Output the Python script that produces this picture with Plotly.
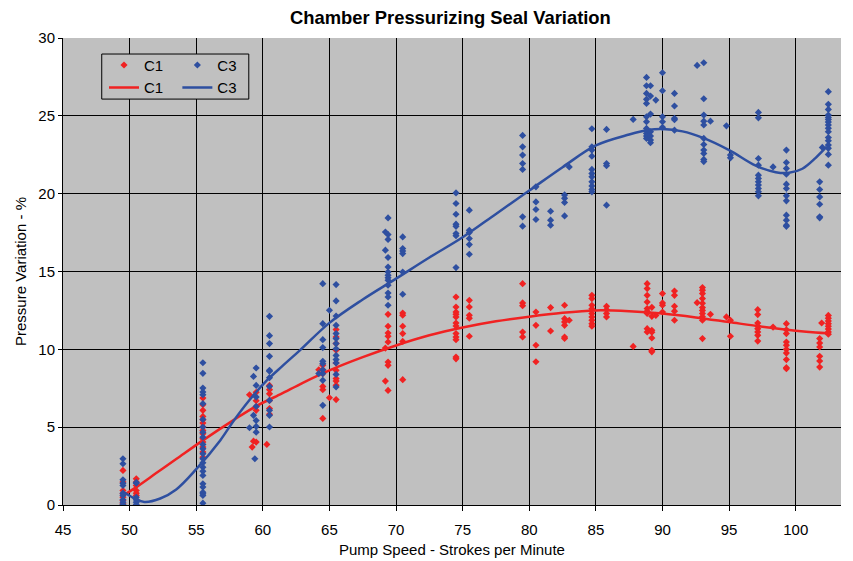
import plotly.graph_objects as go

# ---- scatter data ----
c1_x = ([49.5]*7 + [50.5]*6 + [55.5]*14 + [59.0] + [59.5]*5 + [59.3, 59.2] + [60.5]*6 + [60.3]
        + [64.5]*6 + [64.2] + [65.5]*10 + [65.0] + [69.4]*8 + [69.2]*2 + [70.5]*6
        + [74.5]*12 + [75.5]*5 + [79.5]*5 + [80.5]*4 + [81.6]*2 + [82.65]*6 + [83.0]
        + [84.7]*9 + [85.8]*4 + [87.8] + [88.85]*9 + [89.2]*7 + [89.5] + [90.0]*4 + [90.9]*5
        + [92.6] + [93.0]*11 + [93.6] + [94.8] + [95.1]*2 + [97.15]*8 + [98.3] + [99.3]*10
        + [101.8]*6 + [101.95] + [102.45]*8)
c1_y = ([2.22, 1.47, 0.93, 0.72, 0.50, 0.29, 0.08]
        + [1.68, 1.47, 1.25, 0.93, 0.76, 0.61]
        + [6.87, 6.44, 6.08, 5.69, 5.48, 5.26, 5.01, 4.79, 4.58, 4.26, 4.04, 3.72, 3.40, 3.07]
        + [7.08] + [7.24, 6.7, 6.33, 6.08, 4.04] + [4.1, 3.72]
        + [7.68, 7.41, 7.14, 6.72, 6.2, 5.83] + [3.89]
        + [8.98, 8.69, 8.44, 7.62, 7.41, 5.56] + [8.69]
        + [11.27, 10.79, 10.37, 9.94, 9.12, 8.65, 8.12, 7.96, 7.69, 6.77] + [6.89]
        + [12.25, 11.48, 11.05, 10.84, 10.47, 9.18, 8.97, 7.36] + [10.08, 7.96]
        + [12.33, 12.19, 11.48, 11.01, 10.51, 8.05]
        + [13.36, 12.72, 12.4, 12.25, 12.08, 11.69, 11.5, 11.01, 10.79, 10.62, 9.5, 9.39]
        + [13.15, 12.72, 12.19, 12.0, 10.84]
        + [14.22, 12.98, 12.8, 11.11, 10.8]
        + [12.4, 11.54, 10.26, 9.2]
        + [12.68, 11.18]
        + [12.83, 11.97, 11.76, 11.54, 10.79, 10.7] + [11.87]
        + [13.47, 13.26, 12.83, 12.6, 12.3, 12.08, 11.87, 11.65, 11.48]
        + [12.76, 12.55, 12.3, 12.08] + [10.19]
        + [14.22, 13.9, 13.47, 13.04, 12.62, 12.45, 12.3, 11.33, 11.12]
        + [12.7, 12.12, 11.22, 11.1, 10.73, 9.94, 9.84] + [12.18]
        + [13.58, 12.98, 12.83, 12.4]
        + [13.75, 13.47, 12.77, 12.45, 11.87] + [13.0]
        + [13.97, 13.8, 13.58, 13.26, 12.96, 12.68, 12.5, 12.3, 12.1, 11.87, 10.69]
        + [12.25] + [12.08] + [11.87, 10.84]
        + [12.55, 12.23, 11.69, 11.5, 11.33, 11.12, 10.9, 10.53] + [11.43]
        + [11.65, 11.26, 11.01, 10.47, 10.26, 10.0, 9.76, 9.34, 8.82, 8.75]
        + [10.69, 10.4, 10.15, 9.55, 9.25, 8.86] + [11.69]
        + [12.18, 12.0, 11.82, 11.65, 11.48, 11.3, 11.12, 10.97])

c3_x = ([49.5]*10 + [50.5]*6 + [55.5]*24 + [59.0] + [59.3]*2 + [59.5]*7 + [59.4] + [60.5]*12
        + [64.5]*10 + [64.2] + [65.0] + [65.5]*13 + [69.4]*13 + [69.2]*2 + [70.5]*6
        + [74.5]*8 + [75.5]*6 + [79.5]*7 + [80.5]*4 + [81.6]*3 + [82.65]*4 + [83.0]
        + [84.7]*11 + [85.8]*4 + [87.8] + [88.8]*11 + [89.1]*7 + [89.5] + [90.0]*5 + [90.9]*5
        + [92.6] + [93.1]*11 + [93.6] + [94.8] + [95.1]*2 + [97.2]*11 + [98.3] + [99.3]*12
        + [101.8]*6 + [102.0] + [102.45]*16)
c3_y = ([2.97, 2.65, 1.62, 1.40, 1.25, 0.76, 0.61, 0.33, 0.18, 0.03]
        + [1.40, 1.45, 0.5, 0.33, 0.18, 0.03]
        + [9.14, 8.46, 7.51, 7.26, 7.08, 6.51, 5.50, 5.01, 4.68, 4.36, 3.89, 3.61, 3.29, 2.97,
           2.71, 2.43, 2.17, 1.90, 1.36, 1.15, 0.82, 0.72, 0.61, 0.12]
        + [4.96] + [8.26, 5.76] + [8.80, 7.68, 6.93, 6.33, 5.43, 5.05, 4.68] + [2.97]
        + [12.12, 10.88, 10.37, 9.55, 8.65, 8.6, 8.18, 7.62, 6.72, 6.08, 5.76, 5.01]
        + [14.22, 11.65, 10.62, 10.11, 9.23, 9.08, 8.69, 8.44, 8.01, 6.4] + [8.44] + [12.51]
        + [14.16, 13.11, 12.14, 11.54, 11.01, 10.69, 10.37, 10.04, 9.61, 9.34, 9.12, 8.39, 7.58]
        + [18.44, 17.37, 17.06, 15.9, 15.29, 14.97, 14.76, 14.6, 14.44, 14.12, 13.62, 13.36, 12.83]
        + [17.54, 16.37]
        + [17.22, 16.48, 16.32, 16.15, 14.97, 13.54]
        + [20.05, 19.37, 18.68, 18.04, 17.9, 17.44, 17.3, 15.25]
        + [18.94, 17.65, 17.5, 17.12, 16.73, 16.11]
        + [23.74, 23.01, 22.48, 21.94, 21.56, 18.51, 17.91]
        + [20.44, 19.47, 18.98, 18.34]
        + [18.87, 18.3, 17.97]
        + [19.92, 19.7, 19.43, 18.57] + [21.72]
        + [24.17, 23.01, 22.8, 22.41, 21.56, 21.3, 21.08, 20.76, 20.5, 20.27, 20.12]
        + [24.13, 21.94, 21.8, 19.26] + [24.77]
        + [27.47, 26.93, 26.44, 26.06, 25.8, 24.94, 24.62, 24.19, 23.87, 23.7, 23.55]
        + [26.93, 26.27, 25.11, 23.98, 23.7, 23.44, 23.27] + [26.01]
        + [27.77, 26.61, 24.94, 24.62, 24.26]
        + [26.44, 25.63, 24.84, 24.75, 24.08] + [28.24]
        + [28.41, 26.1, 25.05, 24.66, 24.41, 23.55, 23.16, 22.8, 22.58, 22.2, 22.06]
        + [24.66] + [24.36] + [22.48, 22.3]
        + [25.22, 24.87, 22.26, 21.83, 21.19, 20.98, 20.76, 20.55, 20.33, 20.12, 19.86] + [21.72]
        + [22.8, 22.0, 21.62, 21.25, 20.61, 20.33, 19.86, 19.54, 18.62, 18.3, 17.97, 17.9]
        + [20.76, 20.27, 19.79, 19.32, 18.51, 18.45] + [22.97]
        + [26.55, 25.74, 25.41, 25.05, 24.9, 24.77, 24.6, 24.41, 24.2, 23.98, 23.61, 23.4,
           23.12, 22.91, 22.52, 21.83])

# ---- smoothed curves ----
c1_line_x = [49.5, 50.5, 52, 53.5, 55.5, 57.8, 59.5, 61.3, 63, 65, 67.5, 70, 72.5, 75, 77.5,
             80, 82.5, 85, 87.5, 90, 92.5, 95, 97.5, 100, 101.5, 102.4]
c1_line_y = [0.6, 1.15, 2.05, 2.95, 4.15, 5.45, 6.35, 7.1, 7.85, 8.65, 9.5, 10.25, 10.9, 11.4,
             11.8, 12.1, 12.35, 12.5, 12.45, 12.3, 12.05, 11.75, 11.45, 11.2, 11.08, 11.03]
c3_line_x = [49.6, 50.3, 51.1, 52.3, 53.5, 55.0, 56.8, 57.8, 59.0, 60.3, 61.5, 62.8, 65.0, 67.5,
             70.0, 72.5, 75.0, 77.5, 80.0, 82.5, 85.0, 87.5, 89.0, 90.0, 91.5, 93.0, 95.0, 97.0,
             98.5, 99.5, 100.5, 101.5, 102.3]
c3_line_y = [0.8, 0.45, 0.2, 0.42, 1.0, 2.3, 4.15, 5.4, 6.75, 8.0, 8.95, 9.95, 11.7, 13.2,
             14.54, 15.9, 17.2, 18.7, 20.2, 21.7, 23.1, 23.8, 24.1, 24.15, 24.0, 23.6, 22.8, 21.8,
             21.38, 21.34, 21.6, 22.3, 23.0]

RED = "#F02222"
BLUE = "#2E4FA0"
FONT = "Arial, Liberation Sans, sans-serif"

fig = go.Figure()
fig.add_trace(go.Scatter(x=c1_x, y=c1_y, mode="markers", name="C1", legend="legend",
                         marker=dict(symbol="diamond", size=5.5, color=RED)))
fig.add_trace(go.Scatter(x=c1_line_x, y=c1_line_y, mode="lines", name="C1", legend="legend",
                         line=dict(color=RED, width=2.5, shape="spline", smoothing=1.0)))
fig.add_trace(go.Scatter(x=c3_x, y=c3_y, mode="markers", name="C3", legend="legend2",
                         marker=dict(symbol="diamond", size=5.5, color=BLUE)))
fig.add_trace(go.Scatter(x=c3_line_x, y=c3_line_y, mode="lines", name="C3", legend="legend2",
                         line=dict(color=BLUE, width=2.5, shape="spline", smoothing=1.0)))

legend_common = dict(bgcolor="rgba(0,0,0,0)", borderwidth=0, font=dict(family=FONT, size=15, color="black"),
                     xanchor="left", yanchor="top", tracegroupgap=0, itemwidth=30)
fig.update_layout(
    width=853, height=561,
    margin=dict(l=63, r=12, t=38, b=56),
    paper_bgcolor="white",
    plot_bgcolor="#C0C0C0",
    title=dict(text="<b>Chamber Pressurizing Seal Variation</b>", x=0.528, xanchor="center",
               y=0.968, yanchor="middle", font=dict(family=FONT, size=18.4, color="black")),
    font=dict(family=FONT, size=15, color="black"),
    showlegend=True,
    legend=dict(x=0.0527, y=0.977, **legend_common),
    legend2=dict(x=0.147, y=0.977, **legend_common),
    xaxis=dict(range=[45, 103.4], dtick=5, tick0=45, showgrid=True, gridcolor="black", gridwidth=1,
               zeroline=False, showline=True, linecolor="black", linewidth=1, automargin=False,
               ticks="outside", ticklen=5, tickcolor="black", ticklabelstandoff=6,
               title=dict(text="Pump Speed - Strokes per Minute", font=dict(size=15), standoff=7)),
    yaxis=dict(range=[0, 30], dtick=5, showgrid=True, gridcolor="black", gridwidth=1,
               zeroline=False, showline=True, linecolor="black", linewidth=1, automargin=False,
               ticks="outside", ticklen=4, tickcolor="black",
               title=dict(text="Pressure Variation - %", font=dict(size=15), standoff=8)),
    shapes=[dict(type="rect", xref="paper", yref="paper", x0=0.0498, x1=0.2388, y0=0.8692, y1=0.9657,
                 line=dict(color="black", width=1), fillcolor="#C0C0C0", layer="above")],
)

fig.write_html("out.html")
